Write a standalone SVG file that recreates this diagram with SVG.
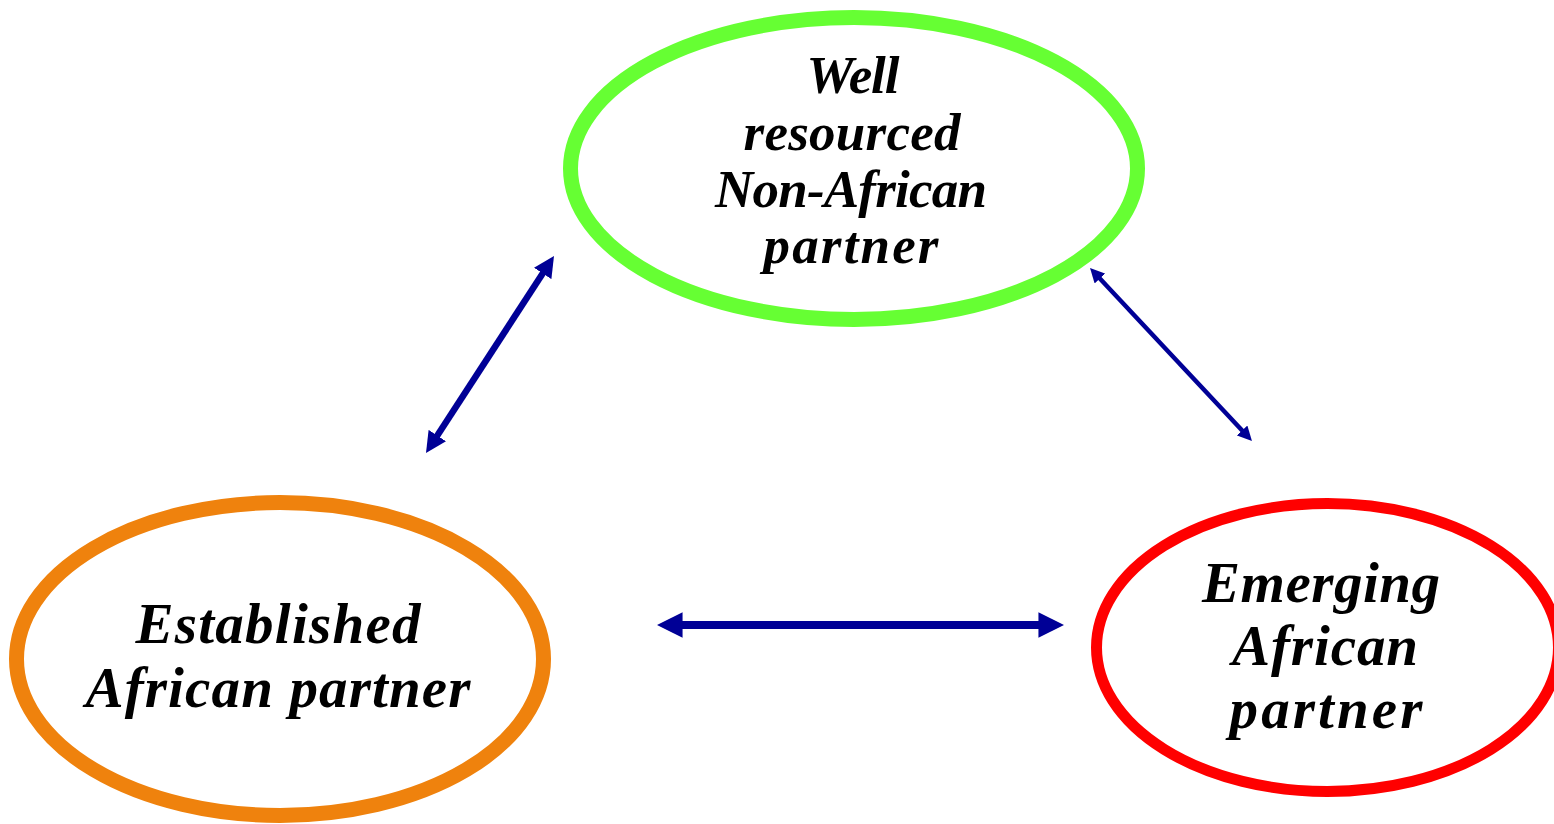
<svg xmlns="http://www.w3.org/2000/svg" width="1554" height="824" viewBox="0 0 1554 824">
  <defs>
    <style>
      .lbl { font-family: "Liberation Serif", "Times New Roman", serif; font-weight: bold; font-style: italic; fill: #000000; text-anchor: middle; }
      .node { fill: #FFFFFF; }
      .conn { fill: none; stroke: #000096; stroke-linecap: butt; marker-start: url(#head); marker-end: url(#head); }
    </style>
    <marker id="head" viewBox="0 0 10 10" refX="1" refY="5" markerWidth="3.2" markerHeight="3.2" markerUnits="strokeWidth" orient="auto-start-reverse">
      <path d="M0,0 L10,5 L0,10 Z" fill="#000096"/>
    </marker>
  </defs>
  <rect width="1554" height="824" fill="#FFFFFF"/>

  <g id="node-well-resourced">
    <ellipse class="node" cx="854" cy="168.5" rx="283.5" ry="151" stroke="#66FF33" stroke-width="15"/>
    <text class="lbl" font-size="53" x="853" y="93" textLength="93">Well</text>
    <text class="lbl" font-size="53" x="852" y="150" textLength="217">resourced</text>
    <text class="lbl" font-size="53" x="851" y="207" textLength="272">Non-African</text>
    <text class="lbl" font-size="53" x="851" y="263" textLength="175">partner</text>
  </g>

  <g id="node-established">
    <ellipse class="node" cx="280" cy="659" rx="263.5" ry="156.5" stroke="#EF820D" stroke-width="15"/>
    <text class="lbl" font-size="57" x="278" y="643" textLength="285">Established</text>
    <text class="lbl" font-size="57" x="278" y="707" textLength="385">African partner</text>
  </g>

  <g id="node-emerging">
    <ellipse class="node" cx="1327.5" cy="647.5" rx="231" ry="144" stroke="#FF0000" stroke-width="11"/>
    <text class="lbl" font-size="57" x="1321" y="602" textLength="238">Emerging</text>
    <text class="lbl" font-size="57" x="1325" y="665" textLength="186">African</text>
    <text class="lbl" font-size="57" x="1326" y="728" textLength="193">partner</text>
  </g>

  <g id="connectors">
    <path class="conn" stroke-width="6.5" d="M436.2,437.3 L543.8,271.7"/>
    <path class="conn" stroke-width="4.5" d="M1098.9,277.5 L1243.1,431.5"/>
    <path class="conn" stroke-width="8" d="M680,625 L1041,625"/>
  </g>
</svg>
